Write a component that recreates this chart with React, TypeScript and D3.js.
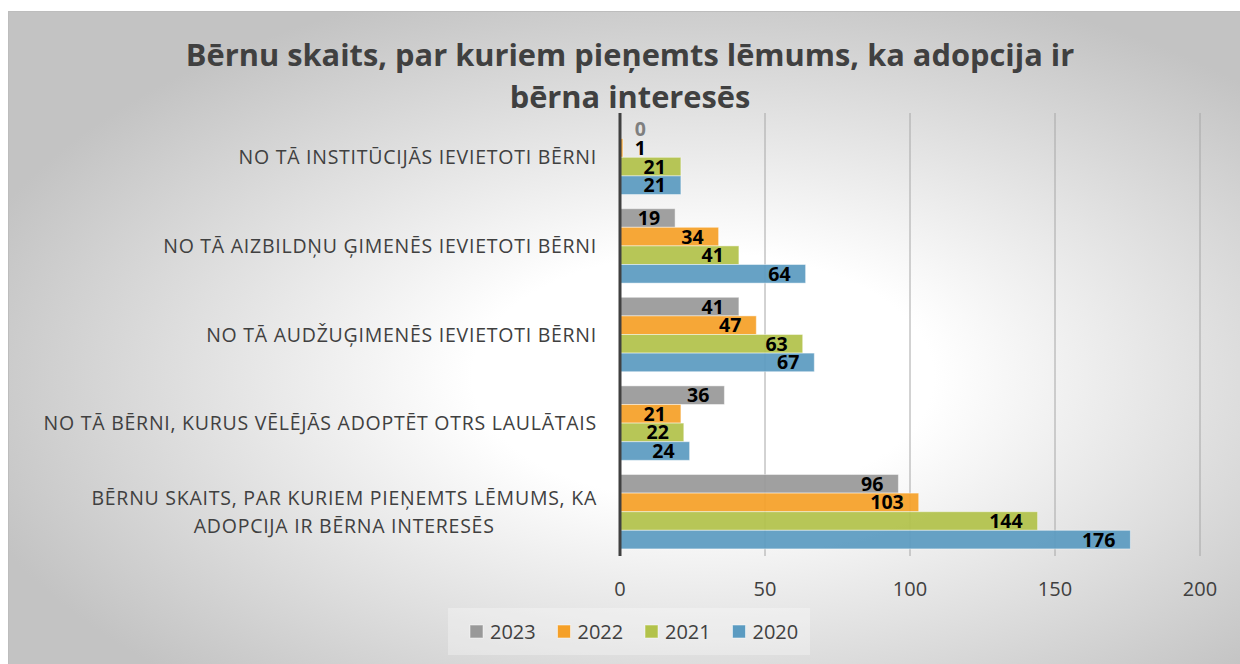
import React, { useEffect, useRef } from "react";
import * as d3 from "d3";

// categories top to bottom, each entry is the list of label lines
const categories = [
  ["NO TĀ INSTITŪCIJĀS IEVIETOTI BĒRNI"],
  ["NO TĀ AIZBILDŅU ĢIMENĒS IEVIETOTI BĒRNI"],
  ["NO TĀ AUDŽUĢIMENĒS IEVIETOTI BĒRNI"],
  ["NO TĀ BĒRNI, KURUS VĒLĒJĀS ADOPTĒT OTRS LAULĀTAIS"],
  ["BĒRNU SKAITS, PAR KURIEM PIEŅEMTS LĒMUMS, KA", "ADOPCIJA IR BĒRNA INTERESĒS"],
];
const years = ["2023", "2022", "2021", "2020"];
const values2023 = [0, 19, 41, 36, 96];
const values2022 = [1, 34, 47, 21, 103];
const values2021 = [21, 41, 63, 22, 144];
const values2020 = [21, 64, 67, 24, 176];
const series = [values2023, values2022, values2021, values2020];
const colors = ["#999999", "#f5a028", "#b2c24a", "#5b9bc1"];
const xTicks = [0, 50, 100, 150, 200];
const titleLines = ["Bērnu skaits, par kuriem pieņemts lēmums, ka adopcija ir", "bērna interesēs"];

const W = 1240;
const H = 664;
const FONT = "'Open Sans', 'DejaVu Sans', sans-serif";
const TEXT = "#404040";

export default function App() {
  const ref = useRef<SVGSVGElement>(null);

  useEffect(() => {
    const svg = d3.select(ref.current);
    svg.selectAll("*").remove();
    svg.style("font-family", FONT);

    const x = d3.scaleLinear([0, 200], [620, 1200]);
    const y = d3.scaleBand<number>(d3.range(categories.length), [113, 556])
      .paddingInner(0.16)
      .paddingOuter(0.08);
    const sub = d3.scaleBand<number>(d3.range(years.length), [0, y.bandwidth()]);

    // background
    const defs = svg.append("defs");
    const grad = defs.append("radialGradient")
      .attr("id", "bg")
      .attr("cx", 0.56).attr("cy", 0.55).attr("r", 0.62);
    grad.append("stop").attr("offset", 0).attr("stop-color", "#ffffff");
    grad.append("stop").attr("offset", 0.3).attr("stop-color", "#ffffff");
    grad.append("stop").attr("offset", 1).attr("stop-color", "#c3c3c3");

    svg.append("rect")
      .attr("x", 8.5).attr("y", 11.5)
      .attr("width", W).attr("height", H)
      .attr("fill", "url(#bg)")
      .attr("stroke", "#bdbdbd");

    // title
    svg.append("g")
      .selectAll("text")
      .data(titleLines)
      .join("text")
      .attr("x", 630)
      .attr("y", (d, i) => 66 + i * 42)
      .attr("text-anchor", "middle")
      .attr("font-size", 30.8)
      .attr("font-weight", "bold")
      .attr("fill", TEXT)
      .text(d => d);

    // gridlines
    svg.append("g")
      .selectAll("line")
      .data(xTicks.slice(1))
      .join("line")
      .attr("x1", d => x(d)).attr("x2", d => x(d))
      .attr("y1", 113).attr("y2", 556)
      .attr("stroke", "#a6a6a6")
      .attr("stroke-width", 1);

    // bars
    const groups = svg.append("g")
      .selectAll("g")
      .data(series)
      .join("g")
      .attr("fill", (d, i) => colors[i]);

    groups.each(function (vals, si) {
      d3.select(this)
        .selectAll("rect")
        .data(vals)
        .join("rect")
        .attr("x", x(0))
        .attr("y", (d, ci) => (y(ci) as number) + (sub(si) as number))
        .attr("width", d => x(d) - x(0))
        .attr("height", sub.bandwidth())
        .attr("fill-opacity", 0.93)
        .attr("stroke", "rgba(255,255,255,0.45)")
        .attr("stroke-width", 1);
    });

    // value labels
    series.forEach((vals, si) => {
      svg.append("g")
        .selectAll("text")
        .data(vals)
        .join("text")
        .attr("x", d => Math.max(x(d) - 15, x(0) + 26))
        .attr("y", (d, ci) => (y(ci) as number) + (sub(si) as number) + sub.bandwidth() / 2)
        .attr("dy", "0.36em")
        .attr("text-anchor", "end")
        .attr("font-size", 19.5)
        .attr("font-weight", "bold")
        .attr("fill", d => (d === 0 ? "#7f7f7f" : "#000000"))
        .text(d => d);
    });

    // axis line
    svg.append("line")
      .attr("x1", x(0)).attr("x2", x(0))
      .attr("y1", 113).attr("y2", 556)
      .attr("stroke", TEXT)
      .attr("stroke-width", 3);

    // x tick labels
    svg.append("g")
      .selectAll("text")
      .data(xTicks)
      .join("text")
      .attr("x", d => x(d))
      .attr("y", 596)
      .attr("text-anchor", "middle")
      .attr("font-size", 20)
      .attr("fill", TEXT)
      .text(d => d);

    // category labels
    const lineH = 28;
    categories.forEach((lines, ci) => {
      const cy = (y(ci) as number) + y.bandwidth() / 2;
      const g = svg.append("g")
        .attr("font-size", 19.5)
        .attr("letter-spacing", 0.75)
        .attr("fill", TEXT);
      const texts = g.selectAll("text")
        .data(lines)
        .join("text")
        .attr("y", (d, i) => cy + (i - (lines.length - 1) / 2) * lineH)
        .attr("dy", "0.36em")
        .text(d => d);
      if (lines.length === 1) {
        texts.attr("x", 597).attr("text-anchor", "end");
      } else {
        let w = 0;
        texts.each(function () {
          w = Math.max(w, (this as SVGTextElement).getComputedTextLength());
        });
        texts.attr("x", 597 - w / 2).attr("text-anchor", "middle");
      }
    });

    // legend
    const legend = svg.append("g");
    legend.append("rect")
      .attr("x", 448).attr("y", 608)
      .attr("width", 362).attr("height", 47)
      .attr("fill", "#ffffff").attr("fill-opacity", 0.3);
    const items = legend.selectAll("g.item")
      .data(years)
      .join("g")
      .attr("class", "item")
      .attr("transform", (d, i) => `translate(${470 + i * 87.5},625)`);
    items.append("rect")
      .attr("width", 13).attr("height", 13)
      .attr("fill", (d, i) => colors[i])
      .attr("stroke", "rgba(255,255,255,0.5)");
    items.append("text")
      .attr("x", 20).attr("y", 6.5)
      .attr("dy", "0.36em")
      .attr("font-size", 20)
      .attr("fill", TEXT)
      .text(d => d);
  }, []);

  return (
    <svg
      ref={ref}
      width={W}
      height={H}
      style={{ position: "absolute", left: 0, top: 0, display: "block" }}
    />
  );
}
